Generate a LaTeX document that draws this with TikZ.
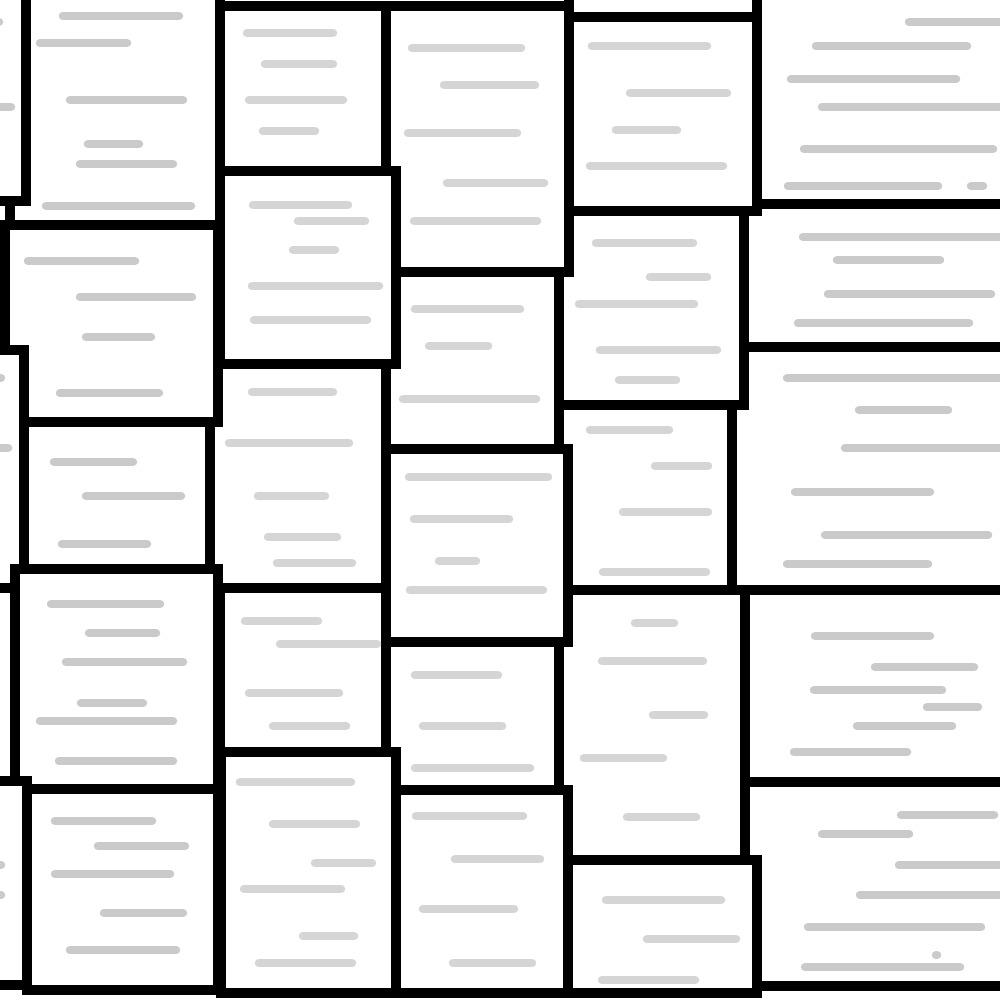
\documentclass[tikz,border=0pt]{standalone}
\definecolor{linegray}{RGB}{202,202,202}
\definecolor{lightlinegray}{RGB}{213,213,213}
\tikzset{
  boxst/.style={draw=black, fill=white, line width=10pt, line join=miter},
  glst/.style={draw=linegray, line width=8.5pt, line cap=round},
  lglst/.style={draw=lightlinegray, line width=8.5pt, line cap=round}
}
\newcommand{\mybox}[4]{\draw[boxst] (#1,#2) rectangle (#3,#4);}
\newcommand{\myline}[3]{\draw[glst] ({#1+4},#3) -- ({#2-4},#3);}
\newcommand{\mylinel}[3]{\draw[lglst] ({#1+4},#3) -- ({#2-4},#3);}
\begin{document}
\begin{tikzpicture}[x=1pt,y=-1pt]
\useasboundingbox (0,0) rectangle (1000,1000);
\clip (0,0) rectangle (1000,1000);
\fill[white] (0,0) rectangle (1000,1000);
% column F
\mybox{757}{-20}{1020}{204}
\mybox{744}{204}{1020}{347}
\mybox{732}{347}{1020}{590}
\mybox{745}{590}{1020}{782}
\mybox{745}{782}{1020}{986}
% column E
\mybox{569}{-30}{757}{17}
\mybox{568}{17}{757}{211}
\mybox{559}{211}{744}{405}
\mybox{559}{405}{732}{590}
\mybox{559}{590}{745}{860}
\mybox{568}{860}{757}{993}
% column D
\mybox{386}{6}{569}{272}
\mybox{386}{272}{559}{449}
\mybox{386}{449}{568}{642}
\mybox{386}{642}{559}{790}
\mybox{396}{790}{568}{993}
% column C
\mybox{220}{6}{386}{171}
\mybox{220}{171}{396}{364}
\mybox{210}{364}{386}{588}
\mybox{220}{588}{386}{752}
\mybox{221}{752}{396}{993}
% column A / B
\mybox{10}{-20}{220}{225}
\mybox{-20}{-20}{26}{201}
\mybox{5}{225}{218}{422}
\mybox{-20}{350}{24}{588}
\mybox{24}{422}{210}{569}
\mybox{-20}{588}{15}{781}
\mybox{15}{569}{218}{789}
\mybox{-20}{781}{27}{985}
\mybox{27}{789}{218}{990}
% gray lines: column A stubs
\myline{-12}{3}{22}
\myline{-12}{15}{107}
\myline{-12}{5}{378}
\myline{-12}{12}{448}
\myline{-12}{5}{865}
\myline{-12}{5}{895}
% B1
\myline{59}{183}{16}
\myline{36}{131}{43}
\myline{66}{187}{100}
\myline{84}{143}{144}
\myline{76}{177}{164}
\myline{42}{195}{206}
% B2
\myline{24}{139}{261}
\myline{76}{196}{297}
\myline{82}{155}{337}
\myline{56}{163}{393}
% B3
\myline{50}{137}{462}
\myline{82}{185}{496}
\myline{58}{151}{544}
% B4
\myline{47}{164}{604}
\myline{85}{160}{633}
\myline{62}{187}{662}
\myline{77}{147}{703}
\myline{36}{177}{721}
\myline{55}{177}{761}
% B5
\myline{51}{156}{821}
\myline{94}{189}{846}
\myline{51}{174}{874}
\myline{100}{187}{913}
\myline{66}{180}{950}
% C1
\mylinel{243}{337}{33}
\mylinel{261}{337}{64}
\mylinel{245}{347}{100}
\mylinel{259}{319}{131}
% C2
\mylinel{249}{352}{205}
\mylinel{294}{369}{221}
\mylinel{289}{339}{250}
\mylinel{248}{383}{286}
\mylinel{250}{371}{320}
% C3
\mylinel{248}{337}{392}
\mylinel{225}{353}{443}
\mylinel{254}{329}{496}
\mylinel{264}{341}{537}
\mylinel{273}{356}{563}
% C4
\mylinel{241}{322}{621}
\mylinel{276}{381}{644}
\mylinel{245}{343}{693}
\mylinel{269}{350}{726}
% C5
\mylinel{236}{355}{782}
\mylinel{269}{360}{824}
\mylinel{311}{376}{863}
\mylinel{240}{345}{889}
\mylinel{299}{358}{936}
\mylinel{255}{356}{963}
% D1
\mylinel{408}{525}{48}
\mylinel{440}{539}{85}
\mylinel{404}{521}{133}
\mylinel{443}{548}{183}
\mylinel{410}{541}{221}
% D2
\mylinel{411}{524}{309}
\mylinel{425}{492}{346}
\mylinel{399}{540}{399}
% D3
\mylinel{405}{552}{477}
\mylinel{410}{513}{519}
\mylinel{435}{480}{561}
\mylinel{406}{547}{590}
% D4
\mylinel{411}{502}{675}
\mylinel{419}{506}{726}
\mylinel{411}{534}{768}
% D5
\mylinel{412}{527}{816}
\mylinel{451}{544}{859}
\mylinel{419}{518}{909}
\mylinel{449}{536}{963}
% E1
\mylinel{588}{711}{46}
\mylinel{626}{731}{93}
\mylinel{612}{681}{130}
\mylinel{586}{727}{166}
% E2
\mylinel{592}{697}{243}
\mylinel{646}{711}{277}
\mylinel{575}{698}{304}
\mylinel{596}{721}{350}
\mylinel{615}{680}{380}
% E3
\mylinel{586}{673}{430}
\mylinel{651}{712}{466}
\mylinel{619}{712}{512}
\mylinel{599}{710}{572}
% E4
\mylinel{631}{678}{623}
\mylinel{598}{707}{661}
\mylinel{649}{708}{715}
\mylinel{580}{667}{758}
\mylinel{623}{700}{817}
% E5
\mylinel{602}{725}{900}
\mylinel{643}{740}{939}
\mylinel{598}{699}{980}
% F1
\myline{905}{1010}{22}
\myline{812}{971}{46}
\myline{787}{960}{79}
\myline{818}{1010}{107}
\myline{800}{997}{149}
\myline{784}{942}{186}
\myline{967}{987}{186}
% F2
\myline{799}{1010}{237}
\myline{833}{944}{260}
\myline{824}{995}{294}
\myline{794}{973}{323}
% F3
\myline{783}{1010}{378}
\myline{855}{952}{410}
\myline{841}{1010}{448}
\myline{791}{934}{492}
\myline{821}{992}{535}
\myline{783}{932}{564}
% F4
\myline{811}{934}{636}
\myline{871}{978}{667}
\myline{810}{946}{690}
\myline{923}{982}{707}
\myline{853}{956}{726}
\myline{790}{911}{752}
% F5
\myline{897}{998}{815}
\myline{818}{913}{834}
\myline{895}{1010}{865}
\myline{856}{1010}{895}
\myline{804}{985}{927}
\myline{801}{964}{967}
\myline{932}{941}{955}
\end{tikzpicture}
\end{document}
